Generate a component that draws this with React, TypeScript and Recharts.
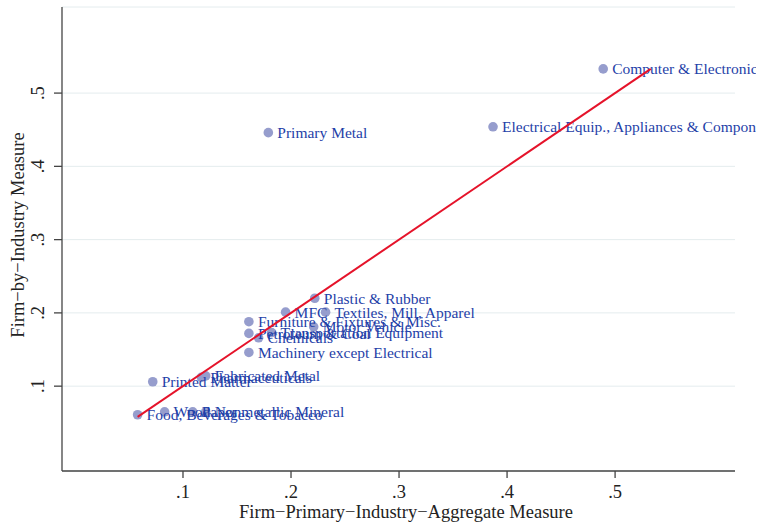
import { ScatterChart, Scatter, XAxis, YAxis, CartesianGrid } from "recharts";

const industries = [
  "Computer & Electronic",
  "Electrical Equip., Appliances & Components",
  "Primary Metal",
  "Plastic & Rubber",
  "MFC",
  "Textiles, Mill, Apparel",
  "Furniture & Fixtures & Misc.",
  "Motor Vehicle",
  "Transportation Equipment",
  "Petroleum & Coal",
  "Chemicals",
  "Machinery except Electrical",
  "Fabricated Metal",
  "Pharmaceuticals",
  "Printed Matter",
  "Nonmetallic Mineral",
  "Paper",
  "Wood",
  "Food, Beverages & Tobacco",
];
const firmPrimaryAggregate = [
  0.489, 0.387, 0.179, 0.222, 0.195, 0.232, 0.161, 0.221, 0.182, 0.161, 0.17,
  0.161, 0.121, 0.117, 0.072, 0.121, 0.109, 0.083, 0.058,
];
const firmByIndustry = [
  0.533, 0.454, 0.446, 0.22, 0.201, 0.201, 0.188, 0.181, 0.173, 0.172, 0.166,
  0.146, 0.114, 0.112, 0.106, 0.065, 0.065, 0.065, 0.061,
];
const tickValues = [0.1, 0.2, 0.3, 0.4, 0.5];
const tickLabels = [".1", ".2", ".3", ".4", ".5"];

const points = industries.map((name, i) => ({
  name,
  x: firmPrimaryAggregate[i],
  y: firmByIndustry[i],
}));

// 45 degree reference line from the smallest x to the largest y
const lineFrom = Math.min(...firmPrimaryAggregate);
const lineTo = Math.max(...firmByIndustry);
const diagonal = [
  { x: lineFrom, y: lineFrom },
  { x: lineTo, y: lineTo },
];

const serif = "'Liberation Serif', 'Times New Roman', serif";
const labelColor = "#1f3fa8";

const tickText = (v: number) => tickLabels[tickValues.indexOf(v)] ?? String(v);

const XTick = ({ x, payload }: any) => (
  <text x={x} y={498} textAnchor="middle" fontSize={18.5} fontFamily={serif} fill="#222">
    {tickText(payload.value)}
  </text>
);

const YTick = ({ y, payload }: any) => (
  <text
    x={44}
    y={y}
    transform={`rotate(-90 44 ${y})`}
    textAnchor="middle"
    fontSize={18.5}
    fontFamily={serif}
    fill="#222"
  >
    {tickText(payload.value)}
  </text>
);

const Dot = ({ cx, cy }: any) => <circle cx={cx} cy={cy} r={4.8} fill="#969dcd" />;

const NameLabel = ({ cx, cy, payload }: any) => (
  <text x={cx + 9} y={cy} dy="0.35em" fontSize={15.5} fontFamily={serif} fill={labelColor}>
    {payload.name}
  </text>
);

export default function App() {
  return (
    <div style={{ position: "absolute", left: 0, top: 0 }}>
      <ScatterChart
        width={756}
        height={522}
        margin={{ top: 7, right: 21, bottom: 0, left: 0 }}
      >
        <CartesianGrid horizontal vertical={false} stroke="#e4ecee" strokeWidth={1} />
        <XAxis
          type="number"
          dataKey="x"
          domain={[-0.012, 0.611]}
          ticks={tickValues}
          height={51}
          tick={<XTick />}
          tickSize={7}
          stroke="#444"
          strokeWidth={1.3}
          label={{
            content: () => (
              <text x={406} y={518} textAnchor="middle" fontSize={18.5} fontFamily={serif} fill="#222">
                Firm−Primary−Industry−Aggregate Measure
              </text>
            ),
          }}
        />
        <YAxis
          type="number"
          dataKey="y"
          domain={[-0.0158, 0.6175]}
          ticks={tickValues}
          width={62}
          tick={<YTick />}
          tickSize={8}
          stroke="#444"
          strokeWidth={1.3}
          label={{
            content: () => (
              <text
                x={24}
                y={235}
                transform="rotate(-90 24 235)"
                textAnchor="middle"
                fontSize={18.5}
                fontFamily={serif}
                fill="#222"
              >
                Firm−by−Industry Measure
              </text>
            ),
          }}
        />
        <Scatter data={points} shape={<Dot />} isAnimationActive={false} />
        <Scatter data={points} shape={<NameLabel />} isAnimationActive={false} />
        <Scatter
          data={diagonal}
          line={{ stroke: "#e5132a", strokeWidth: 2 }}
          shape={() => <g />}
          isAnimationActive={false}
        />
      </ScatterChart>
    </div>
  );
}
